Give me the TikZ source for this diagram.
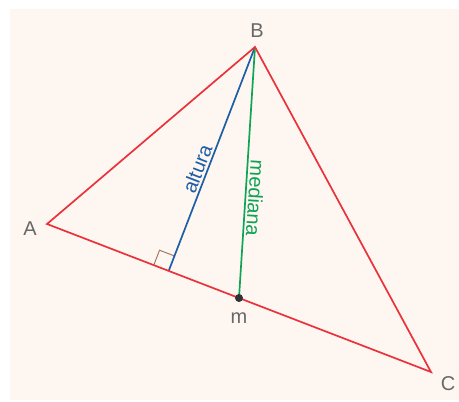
\documentclass[tikz,border=0pt]{standalone}
\usepackage{fontspec}
\setmainfont{Liberation Sans}
\usetikzlibrary{calc}
\definecolor{bgpeach}{RGB}{253,246,241}
\definecolor{trired}{RGB}{234,50,58}
\definecolor{altblue}{RGB}{30,94,164}
\definecolor{medgreen}{RGB}{14,164,84}
\definecolor{markbrown}{RGB}{160,110,92}
\definecolor{labelgray}{RGB}{104,104,104}
\definecolor{dotgray}{RGB}{50,50,50}
\tikzset{vlabel/.style={text=labelgray,font=\fontsize{20}{20}\selectfont},
  linelabel/.style={sloped,font=\fontsize{20}{20}\selectfont,inner sep=2pt}}
\begin{document}
\begin{tikzpicture}[x=1pt,y=-1pt,line width=1.7pt]
\useasboundingbox (0,0) rectangle (459,402);
\fill[bgpeach] (10,9) rectangle (459,400);
\coordinate (A) at (47,224);
\coordinate (B) at (255,47);
\coordinate (C) at (431,372);
\coordinate (m) at ($(A)!0.5!(C)$);
\coordinate (F) at ($(A)!(B)!(C)$);
\coordinate (Fa) at ($(F)!16pt!(A)$);
\coordinate (Fb) at ($(F)!16pt!(B)$);
\draw[markbrown,line width=0.9pt] (Fa) -- ($(Fa)+(Fb)-(F)$) -- (Fb);
\draw[altblue] (F) -- node[linelabel,above,pos=0.44,text=altblue] (alt) {altura} (B);
\draw[medgreen] (B) -- node[linelabel,allow upside down,above,pos=0.6,text=medgreen] (med) {mediana} (m);
\draw[trired,line join=miter] (A) -- (B) -- (C) -- cycle;
\node[circle,fill=dotgray,inner sep=0pt,minimum size=8pt] (mdot) at (m) {};
\node[vlabel] (labA) at (30,229) {A};
\node[vlabel] (labB) at (257,31) {B};
\node[vlabel] (labC) at (448,384) {C};
\node[vlabel] (labm) at (239,318) {m};
\end{tikzpicture}
\end{document}
